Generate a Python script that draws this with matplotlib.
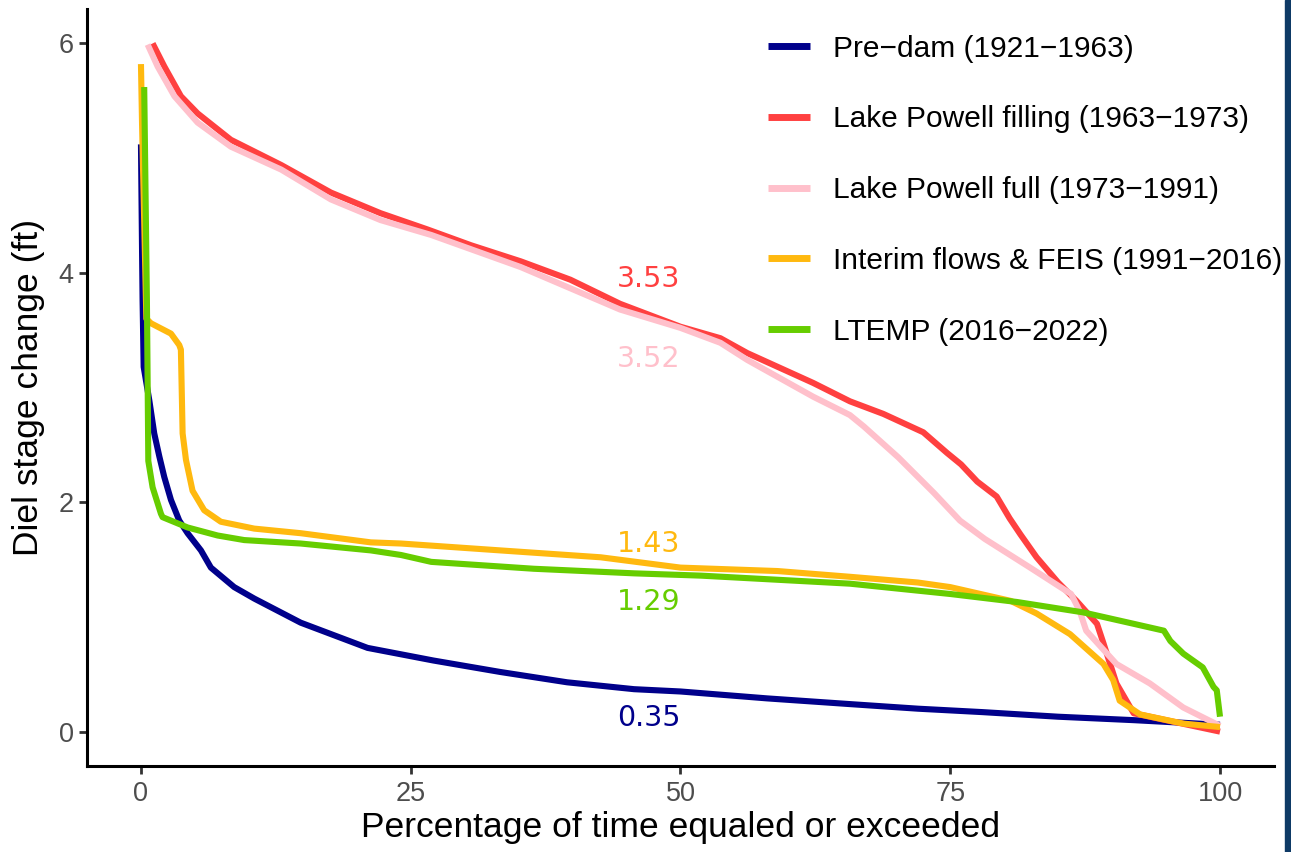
import matplotlib
matplotlib.use("Agg")
import matplotlib.pyplot as plt
from matplotlib.patches import Rectangle

# flow-duration style curves of diel stage change, one per dam-operation period
periods = ["Pre\u2212dam (1921\u22121963)",
           "Lake Powell filling (1963\u22121973)",
           "Lake Powell full (1973\u22121991)",
           "Interim flows & FEIS (1991\u22122016)",
           "LTEMP (2016\u22122022)"]
colors = ["#00008B", "#FF4040", "#FFC0CB", "#FFB90F", "#66CD00"]

# medians printed on the chart (value at 50 % exceedance)
medians = [0.35, 3.53, 3.52, 1.43, 1.29]

pre_x = [0, 0.1, 0.15, 0.25, 0.77, 1.23, 1.7, 2.16, 2.78, 3.55, 4.32, 5.56, 6.48, 8.64, 10.5,
         14.8, 21, 27.1, 33.3, 39.5, 45.7, 50, 58, 65.7, 72, 78, 85, 92, 96, 100]
pre_y = [5.12, 4.2, 3.76, 3.18, 2.89, 2.6, 2.4, 2.22, 2.02, 1.84, 1.73, 1.58, 1.43, 1.26, 1.16,
         0.95, 0.73, 0.62, 0.52, 0.43, 0.37, 0.35, 0.29, 0.24, 0.2, 0.17, 0.13, 0.1, 0.08, 0.06]

fill_x = [1.08, 2.16, 3.7, 5.25, 8.33, 13, 17.6, 22.2, 26.5, 30.6, 35.2, 39.8, 44.4, 50, 53.7,
          56.2, 62.3, 65.7, 68.8, 72.5, 74.7, 76, 77.5, 79.3, 80.5, 81.5, 83, 85, 86.7, 88.6,
          89.2, 90.4, 92, 100]
fill_y = [6.0, 5.8, 5.54, 5.39, 5.16, 4.94, 4.7, 4.52, 4.38, 4.24, 4.1, 3.94, 3.73, 3.53, 3.43,
          3.3, 3.04, 2.88, 2.77, 2.61, 2.43, 2.33, 2.18, 2.05, 1.86, 1.72, 1.52, 1.3, 1.14, 0.94,
          0.77, 0.42, 0.16, 0.0]

full_x = [0.62, 1.54, 3.1, 5.25, 8.33, 13, 17.6, 22.2, 26.9, 35.2, 44.4, 50, 53.7, 56.2, 62.3,
          65.7, 67, 70.2, 73.5, 75.9, 78.2, 82.4, 86.2, 87.0, 87.6, 90.4, 93.5, 96.6, 100]
full_y = [5.99, 5.8, 5.54, 5.31, 5.1, 4.9, 4.64, 4.46, 4.33, 4.05, 3.68, 3.52, 3.39, 3.24, 2.92,
          2.76, 2.66, 2.39, 2.08, 1.84, 1.68, 1.43, 1.2, 1.05, 0.88, 0.59, 0.42, 0.21, 0.05]

interim_x = [0, 0.1, 0.5, 0.93, 2.78, 3.55, 3.7, 3.86, 4.17, 4.78, 5.86, 7.4, 10.5, 14.8, 21.3,
             24.1, 33.3, 42.6, 50, 59, 65.7, 72, 75, 80.6, 83, 86.1, 89.2, 90.1, 90.7, 92.6,
             96.6, 100]
interim_y = [5.82, 5.3, 3.6, 3.56, 3.47, 3.37, 3.33, 2.6, 2.37, 2.1, 1.93, 1.83, 1.77, 1.73, 1.65,
             1.64, 1.58, 1.52, 1.43, 1.4, 1.35, 1.3, 1.26, 1.14, 1.03, 0.85, 0.59, 0.45, 0.27,
             0.15, 0.07, 0.04]

ltemp_x = [0.3, 0.55, 0.62, 0.68, 1.08, 1.85, 2.0, 4.32, 7.1, 9.57, 14.8, 21.3, 24.1, 26.9, 36.4,
           45.7, 51.9, 65.7, 75, 81.2, 87.3, 92, 94.8, 95.4, 96.6, 98.4, 99.4, 99.7, 100]
ltemp_y = [5.62, 3.76, 3.03, 2.36, 2.13, 1.9, 1.87, 1.78, 1.71, 1.67, 1.64, 1.58, 1.54, 1.48, 1.42,
           1.38, 1.36, 1.29, 1.2, 1.13, 1.04, 0.94, 0.88, 0.79, 0.68, 0.56, 0.39, 0.36, 0.13]

series_x = [pre_x, fill_x, full_x, interim_x, ltemp_x]
series_y = [pre_y, fill_y, full_y, interim_y, ltemp_y]

plt.rcParams["font.family"] = ["Liberation Sans", "DejaVu Sans"]

fig = plt.figure(figsize=(12.91, 8.52), dpi=100)
ax = fig.add_axes([0.0674, 0.1009, 0.9194, 0.8885])

for xs, ys, c, lab in zip(series_x, series_y, colors, periods):
    ax.plot(xs, ys, color=c, lw=4.4, label=lab, solid_capstyle="butt", solid_joinstyle="round")

# median labels, right-aligned at 50 %
offsets = [-0.30, 0.35, -0.34, 0.14, -0.23]
for m, c, off in zip(medians, colors, offsets):
    ax.text(50, m + off, f"{m:.2f}", color=c, ha="right", va="baseline",
            fontsize=20.5, family="DejaVu Sans")

ax.set_xlim(-5, 105)
ax.set_ylim(-0.3, 6.3)
ax.set_xticks([0, 25, 50, 75, 100])
ax.set_yticks([0, 2, 4, 6])
ax.tick_params(labelsize=19.5, labelcolor="#4D4D4D", color="#333333", width=2, length=6)
ax.tick_params(axis="x", pad=5)
for s in ["top", "right"]:
    ax.spines[s].set_visible(False)
for s in ["left", "bottom"]:
    ax.spines[s].set_linewidth(2.2)
    ax.spines[s].set_color("black")

ax.set_xlabel("Percentage of time equaled or exceeded", fontsize=25.5, labelpad=3)
ax.set_ylabel("Diel stage change (ft)", fontsize=25.5, labelpad=10)

leg = ax.legend(loc="upper left", bbox_to_anchor=(0.5737, 0.966), frameon=False,
                fontsize=21.5, handlelength=1.4, handletextpad=0.77, labelspacing=1.43,
                borderpad=0, borderaxespad=0)
for h in leg.get_lines():
    h.set_linewidth(5)

# thin dark band along the right edge
fig.patches.append(Rectangle((0.9955, 0), 0.0045, 1, transform=fig.transFigure,
                             color="#0E3A66", zorder=10))

fig.savefig("out.png", dpi=100)
